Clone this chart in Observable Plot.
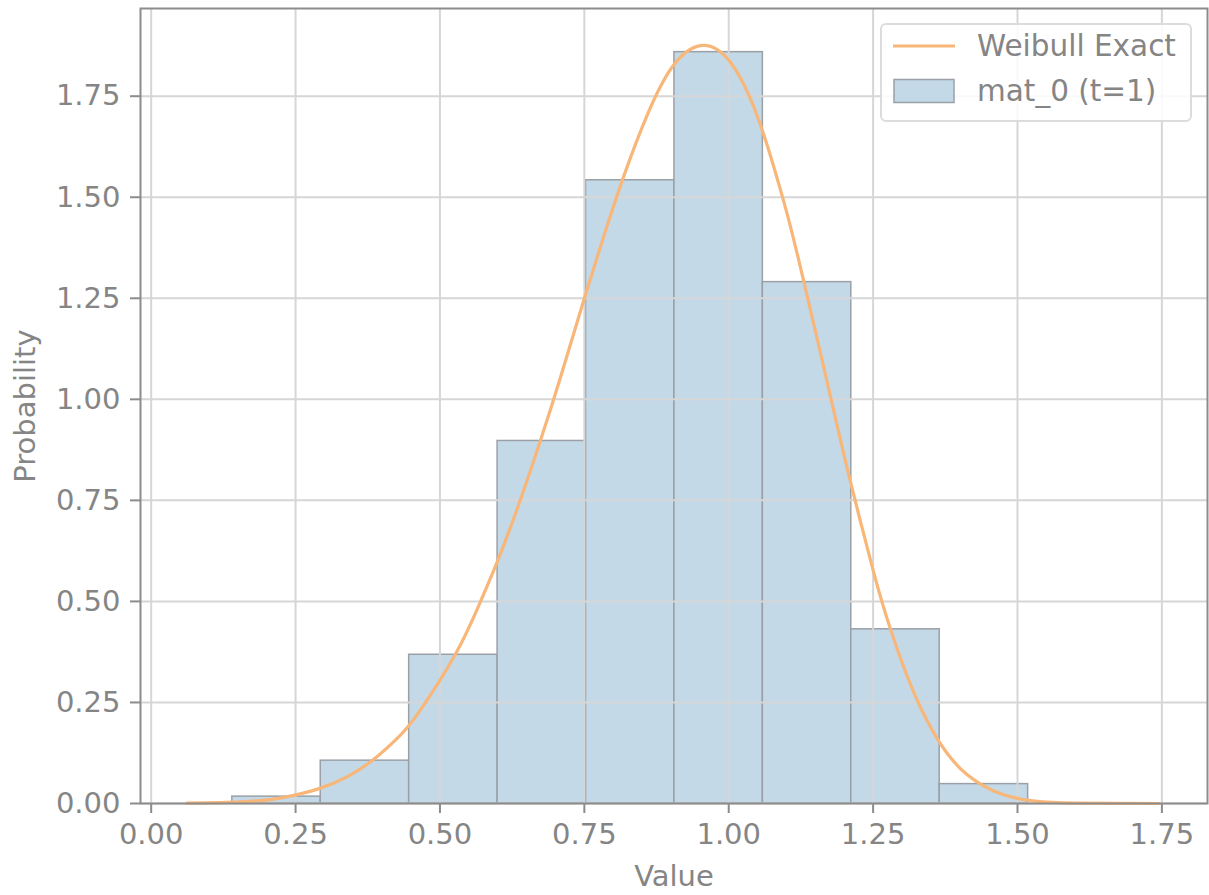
<!DOCTYPE html>
<html>
<head>
<meta charset="utf-8">
<script src="https://cdn.jsdelivr.net/npm/d3@7"></script>
<script src="https://cdn.jsdelivr.net/npm/@observablehq/plot@0.6"></script>
<style>
  html, body { margin: 0; padding: 0; background: #fff; }
  #wrap { position: relative; width: 1209px; height: 895px; font-family: "DejaVu Sans", sans-serif; }
  #legend {
    position: absolute; left: 880px; top: 23px; width: 312px; height: 99px;
    box-sizing: border-box; background: rgba(255,255,255,0.85);
    border: 2px solid #dcdcdc; border-radius: 6px;
    font-size: 29.5px; color: #858585;
  }
  .row { position: absolute; left: 11px; height: 32px; display: flex; align-items: center; }
  .row span { margin-left: 22px; white-space: nowrap; line-height: 32px; }
</style>
</head>
<body>
<div id="wrap"></div>
<script>
// Histogram bins (edges) and density heights
const binEdges = [0.1405, 0.2936, 0.4467, 0.5998, 0.7529, 0.9060, 1.0591, 1.2122, 1.3653, 1.5184];
const binHeights = [0.017, 0.106, 0.368, 0.897, 1.542, 1.859, 1.290, 0.431, 0.048];

// Weibull exact curve
const curveX = [0.062, 0.155, 0.212, 0.247, 0.293, 0.339, 0.385, 0.432, 0.466, 0.527, 0.570, 0.599, 0.634, 0.674, 0.709, 0.749, 0.784, 0.818, 0.859, 0.905, 0.957, 1.003, 1.038, 1.067, 1.095, 1.124, 1.176, 1.211, 1.251, 1.280, 1.321, 1.367, 1.413, 1.471, 1.530, 1.600, 1.745];
const curveY = [0.001, 0.004, 0.011, 0.020, 0.038, 0.066, 0.109, 0.170, 0.231, 0.370, 0.499, 0.597, 0.730, 0.898, 1.056, 1.245, 1.405, 1.551, 1.704, 1.828, 1.876, 1.834, 1.742, 1.627, 1.491, 1.328, 1.008, 0.795, 0.572, 0.432, 0.273, 0.147, 0.071, 0.024, 0.006, 0.001, 0.000];

const xTicks = [0, 0.25, 0.5, 0.75, 1.0, 1.25, 1.5, 1.75];
const yTicks = [0, 0.25, 0.5, 0.75, 1.0, 1.25, 1.5, 1.75];
const seriesNames = ["Weibull Exact", "mat_0 (t=1)"];

const bars = binHeights.map((h, i) => ({x1: binEdges[i], x2: binEdges[i + 1], y: h}));
const curve = curveX.map((x, i) => ({x, y: curveY[i]}));

const gray = "#858585";
const chart = Plot.plot({
  width: 1209,
  height: 895,
  marginLeft: 140,
  marginRight: 2,
  marginTop: 8,
  marginBottom: 92,
  style: {fontFamily: "DejaVu Sans, sans-serif", fontSize: "29px", color: gray, background: "#fff"},
  x: {domain: [-0.0185, 1.829]},
  y: {domain: [0, 1.967]},
  marks: [
    Plot.rectY(bars, {x1: "x1", x2: "x2", y: "y", fill: "#c3d9e8", stroke: "#9aa0a6", strokeWidth: 1.5}),
    Plot.gridX(xTicks, {stroke: "#d6d6d6", strokeOpacity: 1, strokeWidth: 2}),
    Plot.gridY(yTicks, {stroke: "#d6d6d6", strokeOpacity: 1, strokeWidth: 2}),
    Plot.line(curve, {x: "x", y: "y", stroke: "#f8b679", strokeWidth: 3.2, curve: "natural"}),
    Plot.frame({stroke: "#8c8c8c", strokeWidth: 2}),
    Plot.axisX({ticks: xTicks, tickFormat: d3.format(".2f"), tickSize: 10, tickPadding: 10, stroke: "#8c8c8c", strokeWidth: 2,
      label: "Value", labelAnchor: "center", labelArrow: "none", labelOffset: 82}),
    Plot.axisY({ticks: yTicks, tickFormat: d3.format(".2f"), tickSize: 10, tickPadding: 10, stroke: "#8c8c8c", strokeWidth: 2,
      label: "Probability", labelAnchor: "center", labelArrow: "none", labelOffset: 126})
  ]
});
const wrap = document.getElementById("wrap");
wrap.appendChild(chart);

const legend = document.createElement("div");
legend.id = "legend";
legend.innerHTML = `
  <div class="row" style="top:5px">
    <svg width="62" height="32"><line x1="0" y1="16" x2="62" y2="16" stroke="#f8b679" stroke-width="3.2"/></svg>
    <span>${seriesNames[0]}</span>
  </div>
  <div class="row" style="top:50px">
    <svg width="62" height="32"><rect x="1" y="4.5" width="60" height="23" fill="#c3d9e8" stroke="#9aa0a6" stroke-width="1.5"/></svg>
    <span>${seriesNames[1]}</span>
  </div>`;
wrap.appendChild(legend);
</script>
</body>
</html>
